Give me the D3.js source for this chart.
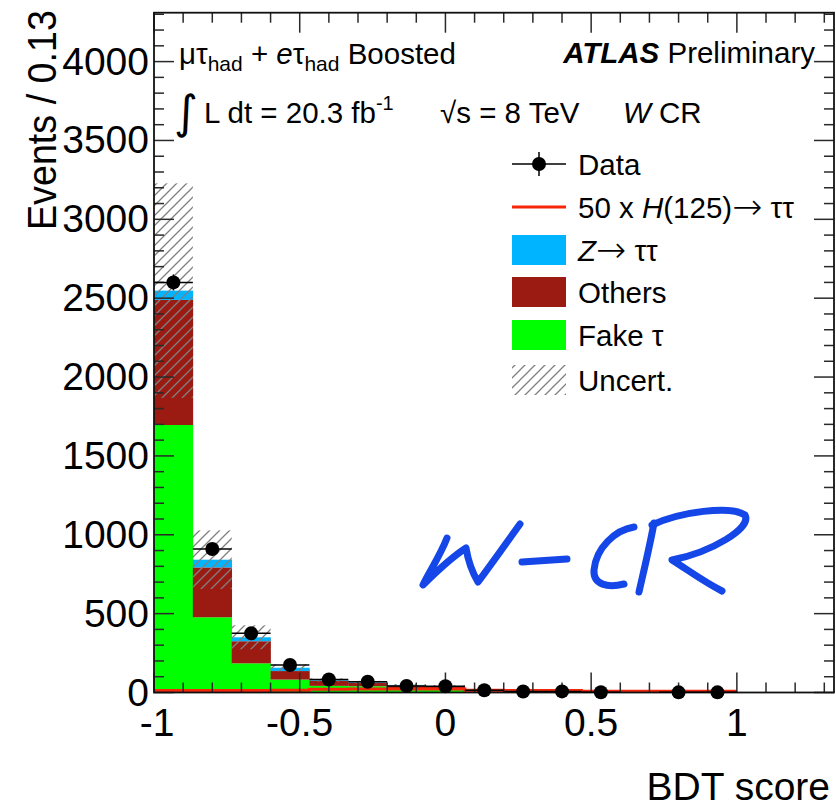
<!DOCTYPE html>
<html>
<head>
<meta charset="utf-8">
<script src="https://cdn.jsdelivr.net/npm/d3@7"></script>
<style>
  html, body { margin: 0; padding: 0; background: #fff; }
  svg { display: block; font-family: "Liberation Sans", Arial, Helvetica, sans-serif; }
</style>
</head>
<body>
<svg id="chart" width="836" height="808"></svg>
<script>
// ---------------- data ----------------
const binEdges = [-1, -0.8667, -0.7333, -0.6, -0.4667, -0.3333, -0.2, -0.0667, 0.0667, 0.2, 0.3333, 0.4667, 0.6, 0.7333, 0.8667, 1];
const fakeTau = [1696, 477, 185, 82, 42, 40, 22, 17, 5, 2, 1.5, 0.5, 0.5, 0.3, 0.3];
const others  = [793, 316, 140, 54, 33, 22, 22, 20, 9, 6, 5, 3, 2, 1.5, 1.5];
const zTauTau = [59, 49, 25, 21, 5, 4, 4, 4, 3, 2, 1, 0.5, 0.5, 0.3, 0.3];
const uncert  = [680, 186, 76, 22, 10, 8, 6, 6, 3, 2, 2, 1, 1, 1, 1];
const signal50 = [12, 12, 12, 14, 20, 22, 22, 22, 15, 12, 12, 8, 8, 8, 8];
const dataEvents = [2600, 910, 375, 174, 82, 68, 41, 40, 14, 6, 7, 2, 0, 1, 1];
const xTicks = [-1, -0.5, 0, 0.5, 1];
const xTickLabels = ["-1", "-0.5", "0", "0.5", "1"];
const yTicks = [0, 500, 1000, 1500, 2000, 2500, 3000, 3500, 4000];
const yTickLabels = ["0", "500", "1000", "1500", "2000", "2500", "3000", "3500", "4000"];

// ---------------- layout ----------------
const L = 154, R = 834, T = 12.7, B = 692.5;
const svg = d3.select("#chart");
const x = d3.scaleLinear().domain([-1, 1.3333]).range([L, R]);
const y = d3.scaleLinear().domain([0, 4310]).range([B, T]);

const colors = { fake: "#00ff00", others: "#9b1b12", z: "#00b4ff", sig: "#f5260a", hatch: "#808080" };

const defs = svg.append("defs");
const pat = defs.append("pattern").attr("id", "hatch").attr("patternUnits", "userSpaceOnUse")
  .attr("width", 10).attr("height", 10);
pat.append("path").attr("d", "M-1,11 L11,-1 M-6,6 L6,-6 M4,16 L16,4")
  .attr("stroke", colors.hatch).attr("stroke-width", 1.3).attr("fill", "none");

defs.append("clipPath").attr("id", "plotclip").append("rect")
  .attr("x", L).attr("y", T).attr("width", R - L).attr("height", B - T);

// ---------------- stack ----------------
const bins = binEdges.slice(0, -1).map((e, i) => ({
  x0: e, x1: binEdges[i + 1], fake: fakeTau[i], others: others[i], z: zTauTau[i],
  unc: uncert[i], sig: signal50[i], data: dataEvents[i]
}));
const keys = ["fake", "others", "z"];
const stacked = d3.stack().keys(keys)(bins);

const g = svg.append("g").attr("clip-path", "url(#plotclip)");
stacked.forEach(layer => {
  g.append("g").selectAll("rect").data(layer).join("rect")
    .attr("x", d => x(d.data.x0))
    .attr("width", d => x(d.data.x1) - x(d.data.x0) + 0.3)
    .attr("y", d => y(d[1]))
    .attr("height", d => Math.max(0, y(d[0]) - y(d[1])))
    .attr("fill", colors[layer.key]);
});

// signal line (50 x H->tautau)
const sigPts = bins.map(d => [d.x0, d.sig]).concat([[binEdges[binEdges.length - 1], signal50[signal50.length - 1]]]);
g.append("path")
  .attr("d", d3.line().x(d => x(d[0])).y(d => y(d[1])).curve(d3.curveStepAfter)(sigPts))
  .attr("fill", "none").attr("stroke", colors.sig).attr("stroke-width", 3);

// uncertainty hatch
g.append("g").selectAll("rect").data(bins).join("rect")
  .attr("x", d => x(d.x0))
  .attr("width", d => x(d.x1) - x(d.x0))
  .attr("y", d => y(d.fake + d.others + d.z + d.unc))
  .attr("height", d => y(Math.max(0, d.fake + d.others + d.z - d.unc)) - y(d.fake + d.others + d.z + d.unc))
  .attr("fill", "url(#hatch)");

// ---------------- ticks ----------------
const tickG = svg.append("g").attr("stroke", "#2a2a2a").attr("stroke-width", 1.5);
const xMinor = d3.range(-10, 14).map(v => v / 10);
xMinor.forEach(v => {
  const major = Math.abs(v * 2 - Math.round(v * 2)) < 1e-6;
  const len = major ? 20 : 10;
  tickG.append("line").attr("x1", x(v)).attr("x2", x(v)).attr("y1", B).attr("y2", B - len);
  tickG.append("line").attr("x1", x(v)).attr("x2", x(v)).attr("y1", T).attr("y2", T + len);
});
const yMinor = d3.range(0, 4400, 100);
yMinor.forEach(v => {
  const major = v % 500 === 0;
  const len = major ? 20 : 10;
  tickG.append("line").attr("x1", L).attr("x2", L + len).attr("y1", y(v)).attr("y2", y(v));
  tickG.append("line").attr("x1", R).attr("x2", R - len).attr("y1", y(v)).attr("y2", y(v));
});

// frame
svg.append("rect").attr("x", L).attr("y", T).attr("width", R - L).attr("height", B - T)
  .attr("fill", "none").attr("stroke", "#111").attr("stroke-width", 1.8);

// ---------------- data points ----------------
const dg = svg.append("g");
bins.filter(d => d.data > 0).forEach(d => {
  const cx = x((d.x0 + d.x1) / 2), cy = y(d.data);
  const err = Math.sqrt(d.data);
  dg.append("line").attr("x1", x(d.x0)).attr("x2", x(d.x1)).attr("y1", cy).attr("y2", cy)
    .attr("stroke", "#000").attr("stroke-width", 1.5);
  dg.append("line").attr("x1", cx).attr("x2", cx).attr("y1", y(d.data + err)).attr("y2", y(Math.max(0, d.data - err)))
    .attr("stroke", "#000").attr("stroke-width", 1.5);
  dg.append("circle").attr("cx", cx).attr("cy", cy).attr("r", 7).attr("fill", "#000");
});

// ---------------- axis labels ----------------
const tickFont = 39;
xTicks.forEach((v, i) => {
  svg.append("text").attr("x", x(v) + (i === 0 ? 3 : 0)).attr("y", 736).attr("text-anchor", "middle")
    .attr("font-size", tickFont).text(xTickLabels[i]);
});
yTicks.forEach((v, i) => {
  svg.append("text").attr("x", 149).attr("y", y(v) + 13).attr("text-anchor", "end")
    .attr("font-size", tickFont).text(yTickLabels[i]);
});
svg.append("text").attr("x", 830).attr("y", 800).attr("text-anchor", "end")
  .attr("font-size", 39).text("BDT score");
svg.append("text").attr("transform", "translate(56,10) rotate(-90) scale(0.92,1)").attr("text-anchor", "end")
  .attr("font-size", 41).text("Events / 0.13");

// ---------------- annotations ----------------
const ann = 29.5;
const t1 = svg.append("text").attr("x", 179).attr("y", 64).attr("font-size", ann);
t1.append("tspan").text("μτ");
t1.append("tspan").attr("font-size", 21).attr("dy", 7).text("had");
t1.append("tspan").attr("dy", -7).text(" + ");
t1.append("tspan").attr("font-style", "italic").text("e");
t1.append("tspan").text("τ");
t1.append("tspan").attr("font-size", 21).attr("dy", 7).text("had");
t1.append("tspan").attr("dy", -7).text(" Boosted");

svg.append("text").attr("x", 174).attr("y", 128).attr("font-size", 46)
  .attr("font-family", "DejaVu Sans").text("∫");
const t2 = svg.append("text").attr("x", 204).attr("y", 123).attr("font-size", ann);
t2.append("tspan").text("L dt = 20.3 fb");
t2.append("tspan").attr("font-size", 20).attr("dy", -13).text("-1");
svg.append("text").attr("x", 440).attr("y", 123).attr("font-size", ann).text("√s = 8 TeV");
const t3 = svg.append("text").attr("x", 623).attr("y", 123).attr("font-size", ann);
t3.append("tspan").attr("font-style", "italic").text("W");
t3.append("tspan").text(" CR");

const t4 = svg.append("text").attr("x", 815).attr("y", 63).attr("text-anchor", "end").attr("font-size", ann);
t4.append("tspan").attr("font-weight", "bold").attr("font-style", "italic").text("ATLAS");
t4.append("tspan").text(" Preliminary");

// ---------------- legend ----------------
const lg = svg.append("g");
const lx0 = 512, lx1 = 566, tx = 578;
const rowsY = [164, 207, 250, 292, 335, 380];
lg.append("line").attr("x1", lx0).attr("x2", lx1).attr("y1", rowsY[0]).attr("y2", rowsY[0]).attr("stroke", "#000").attr("stroke-width", 1.5);
lg.append("line").attr("x1", (lx0 + lx1) / 2).attr("x2", (lx0 + lx1) / 2).attr("y1", rowsY[0] - 12).attr("y2", rowsY[0] + 12).attr("stroke", "#000").attr("stroke-width", 1.5);
lg.append("circle").attr("cx", (lx0 + lx1) / 2).attr("cy", rowsY[0]).attr("r", 7).attr("fill", "#000");
lg.append("line").attr("x1", lx0).attr("x2", lx1).attr("y1", rowsY[1]).attr("y2", rowsY[1]).attr("stroke", colors.sig).attr("stroke-width", 3);
[["z", 2], ["others", 3], ["fake", 4]].forEach(([k, i]) => {
  lg.append("rect").attr("x", lx0).attr("y", rowsY[i] - 15).attr("width", lx1 - lx0).attr("height", 30).attr("fill", colors[k]);
});
lg.append("rect").attr("x", lx0).attr("y", rowsY[5] - 15).attr("width", lx1 - lx0).attr("height", 30).attr("fill", "url(#hatch)");

const lt = (i) => lg.append("text").attr("x", tx).attr("y", rowsY[i] + 10.5).attr("font-size", ann);
lt(0).text("Data");
const s1 = lt(1);
s1.append("tspan").text("50 x ");
s1.append("tspan").attr("font-style", "italic").text("H");
s1.append("tspan").text("(125)");
s1.append("tspan").attr("font-family", "'Noto Sans', 'DejaVu Sans'").attr("font-weight", 300).attr("font-size", 36).attr("dy", 1).text("→");
s1.append("tspan").attr("dy", -1).text(" ττ");
const s2 = lt(2);
s2.append("tspan").attr("font-style", "italic").text("Z");
s2.append("tspan").attr("font-family", "'Noto Sans', 'DejaVu Sans'").attr("font-weight", 300).attr("font-size", 36).attr("dy", 1).text("→");
s2.append("tspan").attr("dy", -1).text(" ττ");
lt(3).text("Others");
lt(4).text("Fake τ");
lt(5).text("Uncert.");

// ---------------- hand-written "W-CR" annotation ----------------
const scribble = [
  "M447,538 C440,556 428,574 423,585 C436,572 452,557 466,548 C468,560 472,572 478,582 C490,566 505,545 520,524",
  "M522,562 C537,561 552,560 567,559",
  "M634,527 C615,530 596,548 594,570 C593,585 608,588 624,584",
  "M654,523 C650,545 644,570 639,592",
  "M652,525 C680,512 730,505 745,515 C752,528 712,552 672,560 C688,570 704,582 722,591"
];
svg.append("g").selectAll("path").data(scribble).join("path")
  .attr("d", d => d).attr("fill", "none").attr("stroke", "#1546e8")
  .attr("stroke-width", 7).attr("stroke-linecap", "round").attr("stroke-linejoin", "round");
</script>
</body>
</html>
